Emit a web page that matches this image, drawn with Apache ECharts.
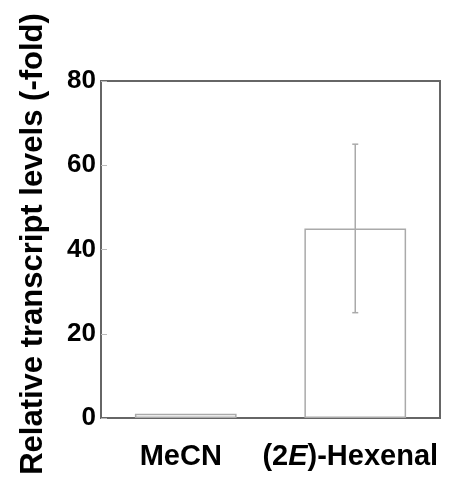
<!DOCTYPE html>
<html>
<head>
<meta charset="utf-8">
<script src="https://cdn.jsdelivr.net/npm/echarts@6/dist/echarts.min.js"></script>
<style>html,body{margin:0;padding:0;background:#fff}#c{width:453px;height:482px}</style>
</head>
<body>
<div id="c"></div>
<script>
var categories = ['MeCN', '(2E)-Hexenal'];
var values = [1, 45];
var errLow = [null, 25];
var errHigh = [null, 65];
var yTicks = [0, 20, 40, 60, 80];

var chart = echarts.init(document.getElementById('c'), null, {renderer: 'canvas'});
var FONT = 'Liberation Sans, Arial, sans-serif';
var errData = categories.map(function (c, i) { return [i, errLow[i], errHigh[i]]; })
  .filter(function (d) { return d[1] != null; });

chart.setOption({
  animation: false,
  backgroundColor: '#fff',
  grid: { left: 101, right: 13, top: 81, bottom: 64, show: true, borderColor: '#666', borderWidth: 2 },
  xAxis: {
    type: 'category',
    data: categories,
    axisLine: { lineStyle: { color: '#666', width: 2 } },
    axisTick: { show: false },
    axisLabel: {
      interval: 0,
      margin: 24,
      padding: [0, 10, 0, 0],
      color: '#000',
      fontFamily: FONT,
      fontWeight: 'bold',
      fontSize: 29,
      formatter: function (v) { return v === '(2E)-Hexenal' ? '(2{i|E})-Hexenal' : v; },
      rich: { i: { fontStyle: 'italic', fontWeight: 'bold', fontSize: 29, fontFamily: FONT, color: '#000' } }
    }
  },
  yAxis: {
    type: 'value',
    min: yTicks[0],
    max: yTicks[yTicks.length - 1],
    interval: 20,
    name: 'Relative transcript levels (-fold)',
    nameLocation: 'middle',
    nameGap: 52,
    nameTextStyle: { color: '#000', fontFamily: FONT, fontWeight: 'bold', fontSize: 31, padding: [0, 0, 0, 11] },
    axisLine: { show: true, lineStyle: { color: '#666', width: 2 } },
    axisTick: { show: true, inside: true, length: 6, lineStyle: { color: '#bbb', width: 1 } },
    splitLine: { show: false },
    axisLabel: { color: '#000', fontFamily: FONT, fontWeight: 'bold', fontSize: 26, margin: 5 }
  },
  series: [
    {
      type: 'bar',
      data: values,
      barWidth: '60%',
      itemStyle: { color: '#fff', borderColor: '#aaa', borderWidth: 1.5 },
      z: 2
    },
    {
      type: 'custom',
      data: errData,
      z: 3,
      renderItem: function (params, api) {
        var x = api.value(0);
        var lo = api.coord([x, api.value(1)]);
        var hi = api.coord([x, api.value(2)]);
        var cap = 3;
        var style = { stroke: '#aaa', lineWidth: 1.5 };
        return {
          type: 'group',
          children: [
            { type: 'line', shape: { x1: lo[0], y1: lo[1], x2: hi[0], y2: hi[1] }, style: style },
            { type: 'line', shape: { x1: lo[0] - cap, y1: lo[1], x2: lo[0] + cap, y2: lo[1] }, style: style },
            { type: 'line', shape: { x1: hi[0] - cap, y1: hi[1], x2: hi[0] + cap, y2: hi[1] }, style: style }
          ]
        };
      }
    }
  ]
});
</script>
</body>
</html>
